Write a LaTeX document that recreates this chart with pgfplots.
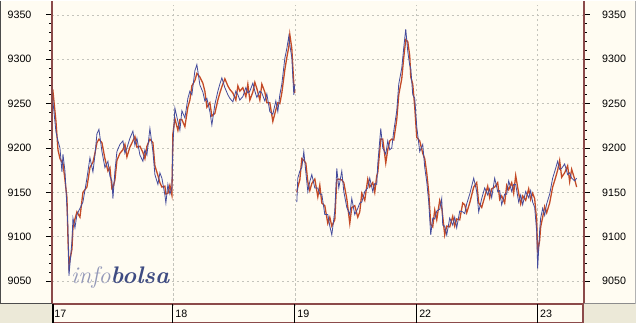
\documentclass[border=0pt]{standalone}
\usepackage{fontspec}
\newfontfamily\arial{Liberation Sans}
\usepackage{pgfplots}
\pgfplotsset{compat=1.18}
\usepackage{pgfplotstable}
\definecolor{bg}{HTML}{FFFCF2}
\definecolor{outer}{HTML}{ECE9D8}
\definecolor{frame}{HTML}{8B4A4A}
\definecolor{pr}{HTML}{C44A26}
\definecolor{pb}{HTML}{454C9C}
\definecolor{gridc}{HTML}{C4C4BC}
\definecolor{wmA}{HTML}{9398B8}
\definecolor{wmB}{HTML}{3E4B82}

\pgfplotstableread{
x a b
52 9274 9262
53 9252 9264
56 9218 9230
58 9208 9198
60 9200 9188
62 9173 9184
63 9193 9183
65 9174 9164
67 9133 9144
68 9110 9098
69 9056 9068
72 9095 9086
73 9121 9110
75 9110 9120
77 9125 9128
80 9132 9122
83 9139 9150
87 9166 9156
90 9189 9178
93 9173 9184
95 9192 9194
97 9216 9206
99 9221 9210
102 9196 9206
105 9178 9188
108 9185 9174
110 9168 9178
112 9163 9154
113 9143 9155
115 9174 9164
117 9196 9186
120 9204 9194
123 9208 9198
125 9194 9204
127 9200 9190
130 9211 9201
133 9219 9208
135 9203 9213
137 9211 9201
140 9192 9202
143 9185 9195
145 9198 9188
147 9192 9202
150 9222 9210
153 9196 9206
155 9170 9180
158 9159 9169
160 9172 9161
162 9166 9156
165 9147 9157
166 9138 9148
168 9159 9149
170 9148 9158
172 9155 9147
173 9203 9216
175 9245 9233
178 9230 9220
180 9220 9232
182 9242 9232
185 9234 9224
188 9256 9246
190 9264 9254
192 9260 9270
195 9287 9276
197 9294 9284
200 9271 9280
203 9263 9273
205 9253 9264
207 9256 9246
210 9241 9251
212 9226 9236
215 9249 9239
218 9264 9254
220 9272 9262
222 9279 9269
225 9268 9278
228 9260 9270
230 9256 9266
233 9252 9262
236 9264 9254
238 9260 9270
240 9254 9264
243 9258 9268
246 9268 9258
248 9262 9272
250 9264 9254
253 9273 9263
255 9264 9274
257 9257 9267
260 9264 9254
262 9262 9272
265 9253 9263
267 9261 9251
270 9241 9251
273 9238 9230
276 9253 9243
278 9241 9251
280 9260 9250
282 9272 9262
285 9301 9288
287 9312 9302
289 9326 9314
290 9316 9328
292 9302 9312
293 9280 9292
294 9260 9272
295 9272 9262
296 nan nan
297 9139 9150
298 9166 9156
300 9174 9164
302 9178 9188
304 9196 9186
306 9173 9183
308 9151 9162
310 9162 9152
312 9170 9160
315 9155 9165
318 9155 9145
320 9148 9158
322 9148 9138
325 9125 9135
328 9125 9115
330 9112 9122
332 9102 9112
335 9129 9119
337 9177 9164
339 9155 9165
342 9174 9164
344 9151 9161
347 9133 9143
350 9125 9115
352 9143 9133
355 9125 9135
358 9132 9122
360 9138 9128
362 9139 9149
365 9151 9141
368 9155 9165
370 9166 9156
373 9151 9161
375 9160 9150
377 9159 9169
378 9182 9172
381 9222 9210
383 9200 9210
386 9193 9183
388 9208 9198
390 9198 9208
392 9200 9210
394 9219 9209
397 9242 9232
399 9272 9260
402 9290 9278
404 9313 9302
406 9334 9322
408 9309 9320
410 9293 9304
411 9290 9280
413 9260 9272
415 9256 9246
417 9224 9212
420 9196 9208
423 9204 9194
425 9178 9188
427 9162 9172
429 9139 9150
431 9102 9114
433 9121 9111
435 9120 9130
437 9129 9119
440 9131 9141
442 9143 9133
443 9113 9123
445 9112 9102
447 9102 9112
450 9121 9111
453 9113 9123
455 9122 9112
457 9110 9120
460 9129 9119
463 9128 9138
465 9126 9136
467 9137 9127
470 9148 9138
472 9157 9147
474 9166 9156
477 9151 9161
479 9128 9138
482 9143 9133
485 9155 9145
488 9147 9157
490 9154 9144
492 9144 9154
495 9166 9156
498 9151 9161
500 9152 9142
502 9136 9146
505 9148 9138
507 9148 9158
509 9163 9153
512 9151 9161
514 9159 9149
516 9159 9169
519 9139 9149
521 9147 9137
523 9136 9146
526 9151 9141
529 9144 9154
531 9152 9142
533 9139 9149
535 9133 9143
537 9106 9118
538 9064 9082
540 9107 9096
541 9121 9111
543 9132 9122
545 9124 9134
547 9137 9127
550 9148 9138
553 9166 9156
556 9177 9167
558 9185 9175
560 9176 9186
562 9177 9167
565 9182 9172
568 9170 9180
570 9172 9162
572 9166 9176
575 9163 9165
577 9166 9156
}\pricedata

\pgfplotsset{
  common/.style={
    at={(52,19)}, anchor=south west, scale only axis,
    width=532pt, height=301pt,
    xmin=52, xmax=584, ymin=9022, ymax=9361,
    ytick={9050,9100,...,9350},
    minor y tick num=4,
    ytick align=outside,
    major tick length=6pt, minor tick length=3pt,
    y tick style={black, line width=0.8pt},
    minor y tick style={black, line width=0.8pt},
    axis line style={draw=none},
    /pgf/number format/1000 sep={},
    /pgf/number format/assume math mode=true,
    tick label style={font=\arial\fontsize{10.7}{12}\selectfont, black},
  }
}

\begin{document}
\begin{tikzpicture}[x=1pt,y=1pt]
\fill[outer] (0,0) rectangle (636,322);
\fill[bg] (0,19) rectangle (636,322);
\fill[bg] (52,0) rectangle (584,19);

\begin{axis}[common,
  axis lines*=left,
  xtick={52,173,295,417,538},
  xticklabels={17,18,19,22,23},
  xtick align=inside,
  x tick style={draw=none},
  xticklabel style={anchor=north west, xshift=-1pt, yshift=-1pt},
  ymajorgrids, xmajorgrids,
  grid style={gridc, dash pattern=on 2.5pt off 2.5pt, line width=0.5pt},
  axis background/.style={fill=bg},
  yticklabel style={xshift=-11pt},
]
\addplot[pr, line width=1.3pt, unbounded coords=jump] table[x=x,y=b]{\pricedata};
\addplot[pb, line width=0.8pt, unbounded coords=jump] table[x=x,y=a]{\pricedata};
\end{axis}

\begin{axis}[common,
  axis y line*=right, axis x line=none, xtick=\empty,
  yticklabel style={xshift=9pt},
]
\addplot[draw=none] coordinates {(52,9200)};
\end{axis}

% axis frame lines
\draw[frame, line width=2pt] (52.5,19) -- (52.5,322);
\draw[frame, line width=2pt] (584,19) -- (584,322);
\draw[frame, line width=1.6pt] (52,19) -- (584,19);
% bottom strip
\draw[frame, line width=1.2pt] (52,0.6) -- (583.4,0.6) -- (583.4,19);
\foreach \t in {173,295,417,538} \draw[black, line width=1pt] (\t,0) -- (\t,19);
\draw[black, line width=2pt] (53,0) -- (53,19);
% side panels
\draw[black!70, line width=1.5pt] (0.75,322) -- (0.75,19.5) -- (52,19.5);
\draw[black!45, line width=0.8pt] (584,19.5) -- (636,19.5);
\draw[black!30, line width=0.8pt] (635.6,19) -- (635.6,322);

% watermark
\node[anchor=base west, inner sep=0] at (71,39)
  {\fontsize{24}{24}\selectfont\itshape\color{wmA}info\color{wmB}\bfseries bolsa};
\end{tikzpicture}
\end{document}
